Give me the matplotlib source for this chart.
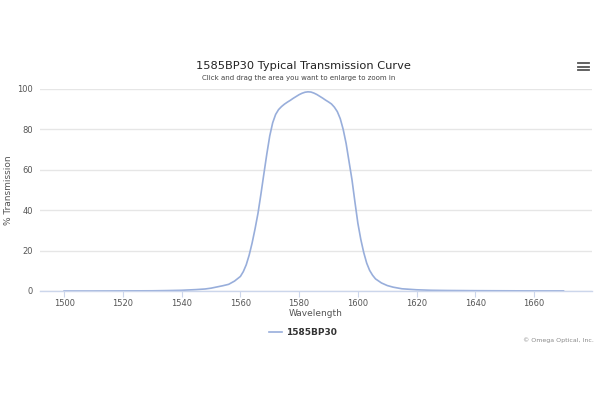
import matplotlib
matplotlib.use("Agg")
import matplotlib.pyplot as plt
from matplotlib.lines import Line2D

wavelength = [1500, 1510, 1520, 1530, 1535, 1540, 1545, 1548, 1550, 1552, 1554, 1556, 1558,
              1560, 1561, 1562, 1563, 1564, 1565, 1566, 1567, 1568, 1569, 1570, 1571, 1572,
              1573, 1574, 1575, 1576, 1577, 1578, 1579, 1580, 1581, 1582, 1583, 1584, 1585,
              1586, 1587, 1588, 1589, 1590, 1591, 1592, 1593, 1594, 1595, 1596, 1597, 1598,
              1599, 1600, 1601, 1602, 1603, 1604, 1605, 1606, 1608, 1610, 1612, 1615, 1620,
              1625, 1630, 1640, 1650, 1660, 1670]
transmission = [0.0, 0.0, 0.05, 0.1, 0.2, 0.35, 0.7, 1.0, 1.4, 2.0, 2.6, 3.3, 4.9,
                7.2, 9.6, 13.0, 17.8, 23.8, 30.8, 38.5, 48.0, 58.0, 67.8, 76.8, 83.3, 87.4,
                89.8, 91.3, 92.5, 93.5, 94.4, 95.4, 96.3, 97.2, 97.9, 98.4, 98.6, 98.5, 98.0,
                97.3, 96.4, 95.5, 94.5, 93.6, 92.6, 91.0, 88.8, 85.3, 80.0, 73.0, 64.0, 55.0,
                44.0, 33.5, 25.5, 19.0, 13.8, 10.2, 7.8, 6.0, 4.0, 2.7, 1.9, 1.1, 0.6,
                0.35, 0.25, 0.15, 0.1, 0.05, 0.05]
series_name = "1585BP30"
x_ticks = [1500, 1520, 1540, 1560, 1580, 1600, 1620, 1640, 1660]
y_ticks = [0, 20, 40, 60, 80, 100]

fig = plt.figure(figsize=(6, 4), dpi=100)
ax = fig.add_axes([0.0667, 0.2725, 0.92, 0.505])

ax.plot(wavelength, transmission, color="#98aedb", linewidth=1.2, label=series_name)

ax.set_xlim(1491.8, 1679.7)
ax.set_ylim(0, 100)
ax.set_xticks(x_ticks)
ax.set_yticks(y_ticks)
ax.tick_params(axis="x", labelsize=6, colors="#555555", length=4, width=0.8, pad=1.5)
ax.tick_params(axis="x", color="#ccd6eb")
ax.tick_params(axis="y", labelsize=6, colors="#555555", length=0, pad=5)
ax.grid(axis="y", color="#e6e6e6", linewidth=1)
ax.set_axisbelow(True)
for s in ["top", "right", "left"]:
    ax.spines[s].set_visible(False)
ax.spines["bottom"].set_color("#ccd6eb")
ax.spines["bottom"].set_linewidth(1)

ax.set_xlabel("Wavelength", fontsize=6.5, color="#555555", labelpad=1)
ax.set_ylabel("% Transmission", fontsize=6.5, color="#555555", labelpad=3)

fig.text(0.505, 0.835, "1585BP30 Typical Transmission Curve", ha="center", va="center",
         fontsize=8.2, color="#222222", fontweight="medium")
fig.text(0.498, 0.805, "Click and drag the area you want to enlarge to zoom in",
         ha="center", va="center", fontsize=5, color="#444444")

# legend
leg = fig.legend(handles=[Line2D([0], [0], color="#98aedb", linewidth=1.2)],
                 labels=[series_name], loc="center", bbox_to_anchor=(0.505, 0.168),
                 frameon=False, fontsize=6.5, handlelength=1.4, handletextpad=0.4)
for t in leg.get_texts():
    t.set_fontweight("bold")
    t.set_color("#333333")

fig.text(0.99, 0.15, "\u00a9 Omega Optical, Inc.", ha="right", va="center",
         fontsize=4.5, color="#888888")

# menu icon
for yy in [0.842, 0.833, 0.824]:
    fig.add_artist(Line2D([0.963, 0.982], [yy, yy], color="#555555", linewidth=1.3,
                          transform=fig.transFigure))

fig.savefig("out.png", dpi=100)
